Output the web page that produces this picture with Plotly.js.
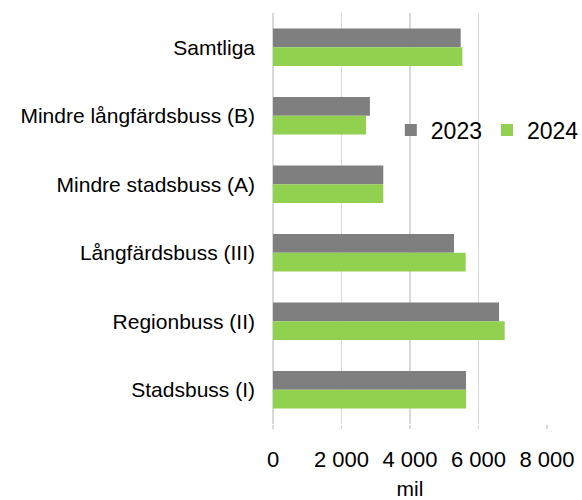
<!DOCTYPE html>
<html>
<head>
<meta charset="utf-8">
<script src="https://cdn.plot.ly/plotly-3.0.1.min.js"></script>
<style>html,body{margin:0;padding:0;background:#fff;}#chart{width:582px;height:500px;}</style>
</head>
<body>
<div id="chart"></div>
<script>
const categories = ["Samtliga", "Mindre långfärdsbuss (B)", "Mindre stadsbuss (A)", "Långfärdsbuss (III)", "Regionbuss (II)", "Stadsbuss (I)"];
const values2023 = [5480, 2830, 3220, 5285, 6600, 5635];
const values2024 = [5530, 2715, 3220, 5625, 6765, 5635];
const seriesNames = ["2023", "2024"];
const xTicks = [0, 2000, 4000, 6000, 8000];

const FONT = "Liberation Sans, Arial, sans-serif";

const traces = [
  {type: "bar", orientation: "h", name: seriesNames[0], y: categories, x: values2023,
   marker: {color: "#7f7f7f"}, hoverinfo: "x+name"},
  {type: "bar", orientation: "h", name: seriesNames[1], y: categories, x: values2024,
   marker: {color: "#92d050"}, hoverinfo: "x+name"}
];

const layout = {
  width: 582, height: 500,
  margin: {l: 273, r: 35, t: 12.5, b: 75.5, autoexpand: false},
  paper_bgcolor: "#fff", plot_bgcolor: "#fff",
  font: {family: FONT, color: "#000"},
  separators: ", ",
  barmode: "group",
  bargap: 0.45,
  bargroupgap: 0,
  showlegend: true,
  legend: {
    orientation: "h", x: 0.43, xanchor: "left", y: 0.715, yanchor: "middle",
    bgcolor: "rgba(0,0,0,0)", font: {family: FONT, size: 23, color: "#000"},
    traceorder: "normal", itemwidth: 30
  },
  xaxis: {
    range: [0, 8000], tickvals: xTicks, tickformat: ",d",
    automargin: false,
    showgrid: true, gridcolor: "#d9d9d9", gridwidth: 1.5,
    zeroline: true, zerolinecolor: "#d9d9d9", zerolinewidth: 2,
    showline: false,
    ticks: "outside", ticklen: 4, tickcolor: "#d9d9d9", tickwidth: 1.5,
    ticklabelstandoff: 12,
    tickfont: {family: FONT, size: 22, color: "#000"},
    title: {text: "mil", font: {family: FONT, size: 21, color: "#000"}, standoff: 14},
    fixedrange: true
  },
  yaxis: {
    type: "category", categoryorder: "array", categoryarray: categories,
    autorange: "reversed", automargin: false,
    showgrid: false, zeroline: false, showline: false, ticks: "",
    ticklabelstandoff: 17,
    tickfont: {family: FONT, size: 21, color: "#000"},
    fixedrange: true
  }
};

Plotly.newPlot("chart", traces, layout, {displayModeBar: false, staticPlot: true});
</script>
</body>
</html>
